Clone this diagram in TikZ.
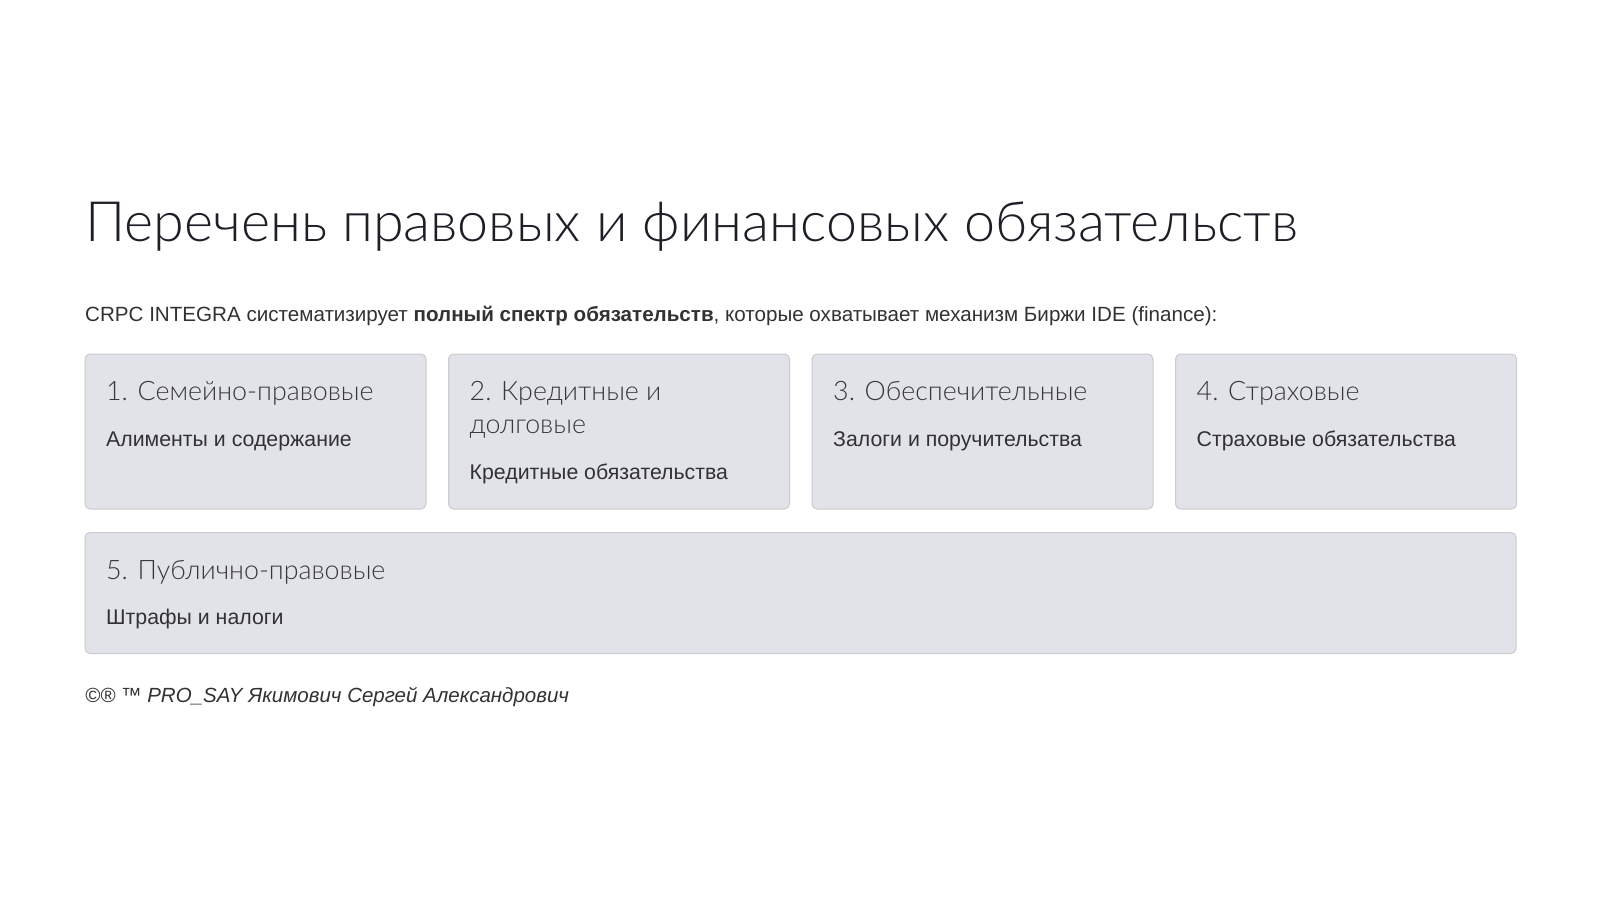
\documentclass[tikz,border=0pt]{standalone}
\usepackage{fontspec}
\setmainfont{Liberation Sans}
\newfontfamily\headfont{Lato}[UprightFont=* Light]
\usetikzlibrary{positioning}

\definecolor{cardfill}{RGB}{226,227,232}
\definecolor{cardline}{RGB}{202,203,208}
\definecolor{titletxt}{RGB}{30,30,38}
\definecolor{headtxt}{RGB}{55,55,60}
\definecolor{bodytxt}{RGB}{50,50,52}

\begin{document}
\begin{tikzpicture}[x=1pt,y=-1pt,
    card/.style={draw=cardline,fill=cardfill,rounded corners=5pt,line width=1pt,
      minimum width=341pt,minimum height=155pt,inner sep=0pt},
    head/.style={anchor=base west,inner sep=0pt,text=headtxt,
      font=\headfont\fontsize{26.8}{32}\selectfont},
    body/.style={anchor=base west,inner sep=0pt,text=bodytxt,
      font=\fontsize{21.3}{25}\selectfont}]
  \useasboundingbox[fill=white] (0,0) rectangle (1600,902);

  \node[anchor=base west,inner sep=0pt,text=titletxt,font=\headfont\fontsize{55.6}{62}\selectfont]
    (title) at (85,241) {Перечень правовых и финансовых обязательств};
  \node[body,font=\fontsize{20.6}{24}\selectfont] (intro) at (85,321)
    {CRPC INTEGRA систематизирует \textbf{полный спектр обязательств}, которые охватывает механизм Биржи IDE (finance):};

  % four cards in a row
  \node[card,anchor=north west] (card1) at (84.5,353.5) {};
  \node[card,right=21.5pt of card1] (card2) {};
  \node[card,right=21.5pt of card2] (card3) {};
  \node[card,right=21.5pt of card3] (card4) {};
  \node[card,anchor=north west,minimum width=1431pt,minimum height=121pt] (card5) at (84.5,532) {};

  \node[head] (head1) at ([shift={(21.5,47)}]card1.north west) {1. Семейно-правовые};
  \node[body] (text1) at ([shift={(21.5,93)}]card1.north west) {Алименты и содержание};

  \node[head] (head2) at ([shift={(21.5,47)}]card2.north west) {2. Кредитные и};
  \node[head] (head2b) at ([shift={(21.5,80)}]card2.north west) {долговые};
  \node[body] (text2) at ([shift={(21.5,126)}]card2.north west) {Кредитные обязательства};

  \node[head] (head3) at ([shift={(21.5,47)}]card3.north west) {3. Обеспечительные};
  \node[body] (text3) at ([shift={(21.5,93)}]card3.north west) {Залоги и поручительства};

  \node[head] (head4) at ([shift={(21.5,47)}]card4.north west) {4. Страховые};
  \node[body] (text4) at ([shift={(21.5,93)}]card4.north west) {Страховые обязательства};

  \node[head] (head5) at ([shift={(21.5,47)}]card5.north west) {5. Публично-правовые};
  \node[body] (text5) at ([shift={(21.5,92)}]card5.north west) {Штрафы и налоги};

  \node[body,font=\itshape\fontsize{20.5}{24}\selectfont] (sign) at (85,702)
    {©® ™ PRO\_SAY Якимович Сергей Александрович};
\end{tikzpicture}
\end{document}
